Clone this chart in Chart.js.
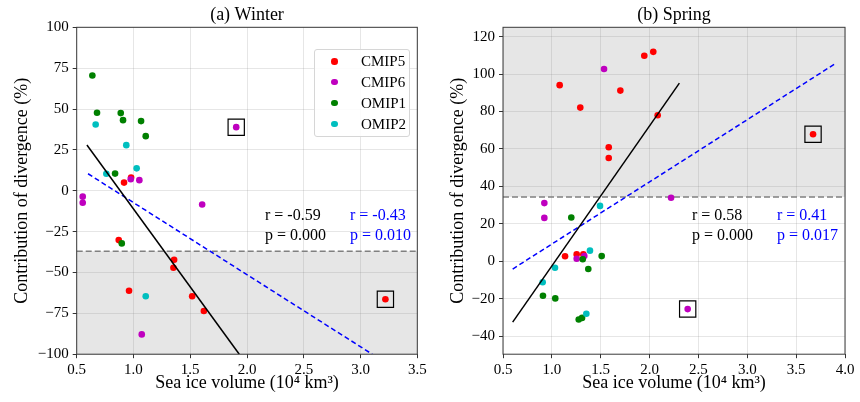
<!DOCTYPE html>
<html>
<head>
<meta charset="utf-8">
<script src="https://cdn.jsdelivr.net/npm/chart.js@4/dist/chart.umd.min.js"></script>
<style>
body { margin: 0; background: #fff; }
#wrap { position: relative; width: 860px; height: 402px; font-family: "Liberation Serif", "Times New Roman", serif; }
canvas { position: absolute; top: 0; }
.legend { position: absolute; left: 314px; top: 49px; width: 96px; height: 88px; border: 1px solid #d6d6d6; border-radius: 3px; background: rgba(255,255,255,0.85); box-sizing: border-box; font-size: 15px; }
.legend .row { position: absolute; left: 0; height: 20px; line-height: 20px; }
.legend .dot { position: absolute; left: 16px; top: 7px; width: 6.5px; height: 6.5px; border-radius: 50%; }
.legend .lab { position: absolute; left: 46px; top: 0; }
.stat { position: absolute; font-size: 16px; line-height: 20px; white-space: pre; }
</style>
</head>
<body>
<div id="wrap">
  <canvas id="winter" width="430" height="402" style="left:0"></canvas>
  <canvas id="spring" width="430" height="402" style="left:430px"></canvas>
  <div class="legend" id="legend"></div>
  <div class="stat" style="left:265px;top:205px;color:#000">r = -0.59
p = 0.000</div>
  <div class="stat" style="left:350px;top:205px;color:#0000ff">r = -0.43
p = 0.010</div>
  <div class="stat" style="left:692px;top:205px;color:#000">r = 0.58
p = 0.000</div>
  <div class="stat" style="left:777px;top:205px;color:#0000ff">r = 0.41
p = 0.017</div>
</div>
<script>
// series names and colours
var groups = ['CMIP5', 'CMIP6', 'OMIP1', 'OMIP2'];
var colors = ['#ff0000', '#bf00bf', '#008000', '#00bfbf'];

// (a) Winter
var winterCmip5X = [0.917, 0.979, 0.870, 1.358, 1.352, 0.961, 1.517, 1.620, 3.219];
var winterCmip5Y = [5.0, 8.1, -30.2, -42.2, -47.1, -61.2, -64.5, -73.6, -66.4];
var winterCmip6X = [0.976, 1.052, 0.553, 0.553, 1.605, 1.073, 1.905];
var winterCmip6Y = [7.0, 6.5, -3.6, -7.3, -8.4, -87.9, 38.9];
var winterOmip1X = [0.638, 0.679, 0.888, 0.908, 1.067, 1.108, 0.838, 0.897];
var winterOmip1Y = [70.5, 47.7, 47.5, 43.2, 42.6, 33.4, 10.5, -32.2];
var winterOmip2X = [0.667, 0.937, 0.761, 1.028, 1.108];
var winterOmip2Y = [40.5, 27.9, 10.4, 13.7, -64.5];
var winterBoxX = [1.905, 3.219];
var winterBoxY = [38.9, -66.4];
var winterFitX = [0.59, 1.932];
var winterFitY = [28, -100];
var winterFit2X = [0.6, 3.103];
var winterFit2Y = [10.4, -100];
var winterThreshold = -37;
var winterXTicks = [0.5, 1.0, 1.5, 2.0, 2.5, 3.0, 3.5];
var winterYTicks = [-100, -75, -50, -25, 0, 25, 50, 75, 100];

// (b) Spring
var springCmip5X = [1.946, 2.038, 1.080, 1.701, 1.291, 2.083, 1.582, 1.582, 1.135, 1.254, 1.322, 3.673];
var springCmip5Y = [109.8, 111.9, 94.1, 91.2, 82.1, 78.0, 60.9, 55.2, 2.7, 3.7, 3.7, 67.9];
var springCmip6X = [1.534, 2.22, 0.923, 0.923, 1.254, 1.332, 2.39];
var springCmip6Y = [102.7, 34.0, 31.1, 23.2, 1.4, 2.8, -25.5];
var springOmip1X = [1.199, 1.316, 1.51, 1.373, 0.909, 1.035, 1.275, 1.309];
var springOmip1Y = [23.4, 1.1, 2.8, -4.1, -18.4, -19.8, -31.1, -30.2];
var springOmip2X = [1.493, 1.39, 1.032, 0.906, 1.353];
var springOmip2Y = [29.6, 5.7, -3.4, -11.2, -28];
var springBoxX = [2.39, 3.673];
var springBoxY = [-25.5, 67.9];
var springFitX = [0.599, 2.305];
var springFitY = [-32.5, 95.2];
var springFit2X = [0.599, 3.898];
var springFit2Y = [-4.1, 105.5];
var springThreshold = 34.4;
var springXTicks = [0.5, 1.0, 1.5, 2.0, 2.5, 3.0, 3.5, 4.0];
var springYTicks = [-40, -20, 0, 20, 40, 60, 80, 100, 120];

var FONT = '"Liberation Serif", "Times New Roman", serif';

function pts(xs, ys) {
  return xs.map(function (x, i) { return { x: x, y: ys[i] }; });
}

// shaded band, frame and panel title
var panelPlugin = {
  id: 'panel',
  beforeDraw: function (chart, args, opts) {
    var ctx = chart.ctx, a = chart.chartArea, y = chart.scales.y;
    var p0 = y.getPixelForValue(opts.shadeFrom), p1 = y.getPixelForValue(opts.shadeTo);
    ctx.save();
    ctx.fillStyle = '#e6e6e6';
    ctx.fillRect(a.left, Math.min(p0, p1), a.right - a.left, Math.abs(p1 - p0));
    ctx.restore();
  },
  afterDraw: function (chart, args, opts) {
    var ctx = chart.ctx, a = chart.chartArea;
    ctx.save();
    ctx.strokeStyle = '#3a3a3a';
    ctx.lineWidth = 1;
    ctx.strokeRect(a.left, a.top, a.right - a.left, a.bottom - a.top);
    ctx.fillStyle = '#000';
    ctx.font = '18px ' + FONT;
    ctx.textAlign = 'center';
    ctx.textBaseline = 'middle';
    ctx.fillText(opts.title, (a.left + a.right) / 2, 15);
    ctx.restore();
  }
};

function makeChart(id, s) {
  var series = [s.c5, s.c6, s.o1, s.o2];
  var datasets = [];
  // fit lines and threshold on top
  datasets.push({ data: pts(s.fitX, s.fitY), showLine: true, borderColor: '#000', borderWidth: 1.5, pointRadius: 0, order: 0 });
  datasets.push({ data: pts(s.fit2X, s.fit2Y), showLine: true, borderColor: '#0000ff', borderWidth: 1.5, borderDash: [5, 3], pointRadius: 0, order: 0 });
  datasets.push({ data: pts([s.xTicks[0], s.xTicks[s.xTicks.length - 1]], [s.thr, s.thr]), showLine: true, borderColor: '#808080', borderWidth: 1.5, borderDash: [6, 3], pointRadius: 0, order: 6 });
  datasets.push({ data: pts(s.boxX, s.boxY), pointStyle: 'rect', pointRadius: 11.5, backgroundColor: 'rgba(0,0,0,0)', borderColor: '#000', borderWidth: 1.2, order: 0 });
  series.forEach(function (d, i) {
    datasets.push({
      label: groups[i], data: pts(d[0], d[1]), backgroundColor: colors[i], borderWidth: 0,
      pointRadius: 3.3, order: 4 - i
    });
  });

  return new Chart(document.getElementById(id), {
    type: 'scatter',
    data: { datasets: datasets },
    plugins: [panelPlugin],
    options: {
      responsive: false,
      animation: false,
      layout: { padding: { left: 0, top: 27.3, right: s.padRight, bottom: 0 } },
      plugins: {
        legend: { display: false },
        tooltip: { enabled: false },
        panel: { title: s.title, shadeFrom: s.thr, shadeTo: s.shadeTo }
      },
      scales: {
        x: {
          min: s.xTicks[0], max: s.xTicks[s.xTicks.length - 1],
          afterBuildTicks: function (sc) { sc.ticks = s.xTicks.map(function (v) { return { value: v }; }); },
          afterFit: function (sc) { sc.height = 47.8; },
          grid: { color: 'rgba(128,128,128,0.2)', tickColor: '#333', tickLength: 4 },
          border: { display: false },
          ticks: { autoSkip: false, maxRotation: 0, padding: 3, color: '#000', font: { family: FONT, size: 15 },
            callback: function (v) { return Number(v).toFixed(1); } },
          title: { display: true, text: 'Sea ice volume (10\u2074 km\u00b3)', color: '#000', font: { family: FONT, size: 18 }, padding: { top: 0, bottom: 8 } }
        },
        y: {
          min: s.yMin, max: s.yMax,
          afterBuildTicks: function (sc) { sc.ticks = s.yTicks.map(function (v) { return { value: v }; }); },
          afterFit: function (sc) { sc.width = s.yWidth; },
          grid: { color: 'rgba(128,128,128,0.2)', tickColor: '#333', tickLength: 4 },
          border: { display: false },
          ticks: { autoSkip: false, padding: 4, color: '#000', font: { family: FONT, size: 15 },
            callback: function (v) { return String(v).replace('-', '\u2212'); } },
          title: { display: true, text: 'Contribution of divergence (%)', color: '#000', font: { family: FONT, size: 18 }, padding: { top: s.yTitlePad, bottom: 0 } }
        }
      }
    }
  });
}

makeChart('winter', {
  title: '(a) Winter',
  c5: [winterCmip5X, winterCmip5Y], c6: [winterCmip6X, winterCmip6Y],
  o1: [winterOmip1X, winterOmip1Y], o2: [winterOmip2X, winterOmip2Y],
  boxX: winterBoxX, boxY: winterBoxY,
  fitX: winterFitX, fitY: winterFitY, fit2X: winterFit2X, fit2Y: winterFit2Y,
  thr: winterThreshold, shadeTo: -100,
  xTicks: winterXTicks, yTicks: winterYTicks, yMin: -100, yMax: 100,
  padRight: 12.3, yWidth: 76.7, yTitlePad: 11
});

makeChart('spring', {
  title: '(b) Spring',
  c5: [springCmip5X, springCmip5Y], c6: [springCmip6X, springCmip6Y],
  o1: [springOmip1X, springOmip1Y], o2: [springOmip2X, springOmip2Y],
  boxX: springBoxX, boxY: springBoxY,
  fitX: springFitX, fitY: springFitY, fit2X: springFit2X, fit2Y: springFit2Y,
  thr: springThreshold, shadeTo: 125,
  xTicks: springXTicks, yTicks: springYTicks, yMin: -49.6, yMax: 125,
  padRight: 15, yWidth: 73, yTitlePad: 17
});

// legend inside panel (a)
var legend = document.getElementById('legend');
groups.forEach(function (g, i) {
  var row = document.createElement('div');
  row.className = 'row';
  row.style.top = (1 + i * 20.9) + 'px';
  row.innerHTML = '<span class="dot" style="background:' + colors[i] + '"></span><span class="lab">' + g + '</span>';
  legend.appendChild(row);
});
</script>
</body>
</html>
